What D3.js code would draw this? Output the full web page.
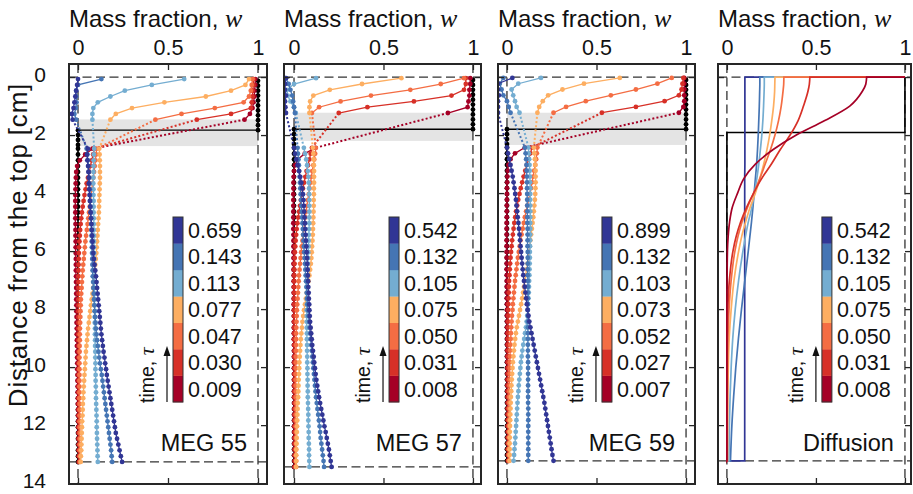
<!DOCTYPE html>
<html>
<head>
<meta charset="utf-8">
<script src="https://cdn.jsdelivr.net/npm/d3@7"></script>
<style>
  body { margin: 0; background: #fff; }
  svg text { font-family: "Liberation Sans", Arial, Helvetica, sans-serif; fill: #111; }
</style>
</head>
<body>
<svg id="chart" width="913" height="494"></svg>
<script>
// ---------- shared axis values ----------
const massTicks = [0, 0.5, 1];
const massTickLabels = ["0", "0.5", "1"];
const depthTicks = [0, 2, 4, 6, 8, 10, 12, 14];
const rampColors = ["#a50026", "#d73027", "#f46d43", "#fdae61", "#74add1", "#4575b4", "#313695"];

// ---------- MEG 55 ----------
const meg55Tau = ["0.009", "0.030", "0.047", "0.077", "0.113", "0.143", "0.659"];
const meg55Band = [1.46, 2.38];
const meg55Bottom = 13.27;
const meg55InitialAbove = [0.13, 0.3, 0.47, 0.64, 0.81, 0.98, 1.15, 1.32, 1.49, 1.66, 1.83];
const meg55InitialGap = [1.83, 2.0, 2.17, 2.34];
const meg55UpperDepth = [0.07, 0.27, 0.47, 0.67, 0.87, 1.07, 1.27, 1.47];
const meg55Upper = [
  [0.985, 0.985, 0.98, 0.98, 0.975, 0.97, 0.955, 0.925],
  [0.975, 0.975, 0.97, 0.97, 0.965, 0.96, 0.85, 0.66],
  [0.97, 0.965, 0.96, 0.95, 0.92, 0.76, 0.575, 0.43],
  [0.95, 0.93, 0.85, 0.71, 0.48, 0.3, 0.21, 0.18],
  [0.59, 0.41, 0.26, 0.18, 0.11, 0.085, 0.08, 0.08],
  [0.13, 0.0, -0.01, -0.01, -0.008, -0.012, -0.02, -0.01],
  [0.0, -0.005, -0.01, -0.015, -0.02, -0.025, -0.035, -0.03]
];
const meg55LowerDepth = [
  2.47, 2.67, 2.87, 3.07, 3.27, 3.47, 3.67, 3.87, 4.07, 4.27,
  4.47, 4.67, 4.87, 5.07, 5.27, 5.47, 5.67, 5.87, 6.07, 6.27,
  6.47, 6.67, 6.87, 7.07, 7.27, 7.47, 7.67, 7.87, 8.07, 8.27,
  8.47, 8.67, 8.87, 9.07, 9.27, 9.47, 9.67, 9.87, 10.07, 10.27,
  10.47, 10.67, 10.87, 11.07, 11.27, 11.47, 11.67, 11.87, 12.07, 12.27,
  12.47, 12.67, 12.87, 13.07, 13.27
];
const meg55Lower = [
  [0.08, 0.04, 0.01, -0.005, -0.01, -0.012, -0.013, -0.014, -0.015, -0.015,
   -0.015, -0.015, -0.015, -0.014, -0.014, -0.014, -0.013, -0.013, -0.013, -0.012,
   -0.012, -0.012, -0.011, -0.011, -0.01, -0.01, -0.01, -0.009, -0.009, -0.008,
   -0.008, -0.007, -0.007, -0.006, -0.006, -0.005, -0.005, -0.004, -0.004, -0.003,
   -0.003, -0.002, -0.002, -0.001, -0.001, 0, 0, 0.001, 0.001, 0.002,
   0.002, 0.003, 0.003, 0.004, 0.005],
  [0.092, 0.084, 0.076, 0.069, 0.062, 0.055, 0.048, 0.042, 0.036, 0.031,
   0.026, 0.022, 0.018, 0.015, 0.012, 0.01, 0.008, 0.006, 0.005, 0.004,
   0.003, 0.003, 0.002, 0.002, 0.002, 0.002, 0.002, 0.002, 0.002, 0.002,
   0.002, 0.002, 0.002, 0.002, 0.003, 0.003, 0.003, 0.003, 0.003, 0.003,
   0.003, 0.003, 0.003, 0.003, 0.004, 0.004, 0.004, 0.004, 0.004, 0.004,
   0.004, 0.005, 0.005, 0.005, 0.005],
  [0.104, 0.1, 0.097, 0.093, 0.089, 0.085, 0.081, 0.077, 0.073, 0.069,
   0.065, 0.061, 0.057, 0.053, 0.049, 0.045, 0.041, 0.038, 0.035, 0.032,
   0.029, 0.026, 0.024, 0.022, 0.02, 0.018, 0.016, 0.015, 0.014, 0.013,
   0.012, 0.011, 0.01, 0.01, 0.009, 0.009, 0.008, 0.008, 0.008, 0.008,
   0.008, 0.008, 0.008, 0.008, 0.009, 0.009, 0.009, 0.009, 0.01, 0.01,
   0.01, 0.01, 0.01, 0.011, 0.011],
  [0.118, 0.12, 0.121, 0.122, 0.122, 0.122, 0.121, 0.12, 0.119, 0.118,
   0.117, 0.116, 0.114, 0.112, 0.11, 0.108, 0.106, 0.104, 0.102, 0.099,
   0.096, 0.093, 0.09, 0.087, 0.084, 0.08, 0.076, 0.072, 0.068, 0.064,
   0.06, 0.056, 0.053, 0.05, 0.047, 0.044, 0.042, 0.04, 0.038, 0.036,
   0.034, 0.032, 0.03, 0.029, 0.027, 0.026, 0.025, 0.023, 0.022, 0.021,
   0.02, 0.019, 0.018, 0.016, 0.015],
  [0.09, 0.088, 0.087, 0.086, 0.086, 0.085, 0.085, 0.086, 0.086, 0.087,
   0.087, 0.087, 0.088, 0.088, 0.088, 0.089, 0.089, 0.089, 0.09, 0.09,
   0.09, 0.09, 0.091, 0.091, 0.091, 0.092, 0.092, 0.092, 0.093, 0.093,
   0.093, 0.094, 0.094, 0.095, 0.095, 0.096, 0.096, 0.097, 0.097, 0.098,
   0.098, 0.099, 0.1, 0.1, 0.101, 0.102, 0.103, 0.104, 0.104, 0.105,
   0.106, 0.107, 0.108, 0.109, 0.11],
  [0.048, 0.052, 0.055, 0.058, 0.06, 0.062, 0.064, 0.066, 0.067, 0.068,
   0.07, 0.071, 0.072, 0.073, 0.074, 0.075, 0.076, 0.077, 0.078, 0.079,
   0.08, 0.081, 0.082, 0.084, 0.085, 0.087, 0.089, 0.091, 0.093, 0.095,
   0.098, 0.1, 0.103, 0.106, 0.11, 0.114, 0.118, 0.122, 0.127, 0.132,
   0.136, 0.14, 0.144, 0.148, 0.152, 0.156, 0.16, 0.164, 0.168, 0.172,
   0.176, 0.18, 0.184, 0.187, 0.19],
  [0.055, 0.05, 0.052, 0.056, 0.058, 0.06, 0.06, 0.062, 0.064, 0.066,
   0.068, 0.07, 0.073, 0.075, 0.077, 0.079, 0.081, 0.083, 0.085, 0.088,
   0.092, 0.096, 0.1, 0.103, 0.106, 0.109, 0.112, 0.115, 0.118, 0.121,
   0.124, 0.127, 0.13, 0.134, 0.138, 0.142, 0.147, 0.151, 0.156, 0.16,
   0.165, 0.17, 0.175, 0.18, 0.185, 0.19, 0.195, 0.2, 0.205, 0.21,
   0.217, 0.224, 0.231, 0.238, 0.245]
];

// ---------- MEG 57 ----------
const meg57Tau = ["0.008", "0.031", "0.050", "0.075", "0.105", "0.132", "0.542"];
const meg57Band = [1.23, 2.2];
const meg57Bottom = 13.44;
const meg57InitialAbove = [0.1, 0.27, 0.44, 0.61, 0.78, 0.95, 1.12, 1.29, 1.46, 1.63, 1.8];
const meg57InitialGap = [1.8, 1.97, 2.14, 2.31];
const meg57UpperDepth = [0.04, 0.24, 0.44, 0.64, 0.84, 1.04, 1.24];
const meg57Upper = [
  [0.985, 0.985, 0.98, 0.98, 0.975, 0.97, 0.86],
  [0.96, 0.96, 0.95, 0.88, 0.67, 0.41, 0.25],
  [0.95, 0.82, 0.65, 0.43, 0.26, 0.14, 0.1],
  [0.6, 0.38, 0.2, 0.108, 0.09, 0.086, 0.086],
  [0.123, 0.0, -0.04, -0.035, -0.02, 0.0, 0.01],
  [-0.045, -0.03, -0.02, -0.01, -0.005, 0.0, 0.005],
  [-0.045, -0.05, -0.05, -0.045, -0.05, -0.048, -0.045]
];
const meg57LowerDepth = [
  2.44, 2.64, 2.84, 3.04, 3.24, 3.44, 3.64, 3.84, 4.04, 4.24,
  4.44, 4.64, 4.84, 5.04, 5.24, 5.44, 5.64, 5.84, 6.04, 6.24,
  6.44, 6.64, 6.84, 7.04, 7.24, 7.44, 7.64, 7.84, 8.04, 8.24,
  8.44, 8.64, 8.84, 9.04, 9.24, 9.44, 9.64, 9.84, 10.04, 10.24,
  10.44, 10.64, 10.84, 11.04, 11.24, 11.44, 11.64, 11.84, 12.04, 12.24,
  12.44, 12.64, 12.84, 13.04, 13.24, 13.44
];
const meg57Lower = [
  [0.12, 0.06, 0.02, 0.005, 0.0, -0.002, -0.003, -0.003, -0.004, -0.004,
   -0.004, -0.004, -0.004, -0.004, -0.004, -0.003, -0.003, -0.003, -0.003, -0.003,
   -0.003, -0.003, -0.002, -0.002, -0.002, -0.002, -0.002, -0.002, -0.001, -0.001,
   -0.001, -0.001, -0.001, -0.001, 0, 0, 0, 0, 0, 0,
   0, 0, 0, 0.001, 0.001, 0.001, 0.001, 0.001, 0.001, 0.001,
   0.001, 0.001, 0.002, 0.002, 0.002, 0.002],
  [0.1, 0.093, 0.086, 0.078, 0.07, 0.063, 0.056, 0.05, 0.044, 0.038,
   0.033, 0.028, 0.023, 0.019, 0.015, 0.012, 0.009, 0.007, 0.005, 0.004,
   0.003, 0.002, 0.002, 0.001, 0.001, 0.001, 0.001, 0.001, 0.001, 0.001,
   0.001, 0.001, 0.001, 0.001, 0.001, 0.002, 0.002, 0.002, 0.002, 0.002,
   0.002, 0.002, 0.002, 0.002, 0.003, 0.003, 0.003, 0.003, 0.003, 0.003,
   0.003, 0.003, 0.004, 0.004, 0.004, 0.004],
  [0.122, 0.118, 0.113, 0.108, 0.102, 0.097, 0.092, 0.087, 0.082, 0.077,
   0.072, 0.067, 0.063, 0.059, 0.055, 0.051, 0.047, 0.043, 0.04, 0.037,
   0.034, 0.031, 0.028, 0.026, 0.024, 0.022, 0.02, 0.018, 0.016, 0.015,
   0.014, 0.013, 0.012, 0.012, 0.011, 0.011, 0.01, 0.01, 0.01, 0.009,
   0.009, 0.009, 0.01, 0.01, 0.01, 0.01, 0.01, 0.01, 0.01, 0.011,
   0.011, 0.011, 0.011, 0.011, 0.012, 0.012],
  [0.105, 0.108, 0.11, 0.111, 0.112, 0.112, 0.112, 0.111, 0.111, 0.11,
   0.11, 0.109, 0.108, 0.107, 0.106, 0.105, 0.103, 0.101, 0.099, 0.097,
   0.094, 0.09, 0.086, 0.081, 0.076, 0.071, 0.066, 0.061, 0.056, 0.051,
   0.047, 0.044, 0.041, 0.038, 0.036, 0.034, 0.032, 0.03, 0.029, 0.028,
   0.026, 0.025, 0.024, 0.023, 0.021, 0.02, 0.019, 0.018, 0.017, 0.016,
   0.015, 0.014, 0.013, 0.012, 0.012, 0.011],
  [0.055, 0.062, 0.068, 0.073, 0.077, 0.08, 0.082, 0.084, 0.085, 0.086,
   0.086, 0.086, 0.085, 0.085, 0.084, 0.083, 0.082, 0.081, 0.08, 0.079,
   0.078, 0.077, 0.076, 0.075, 0.074, 0.073, 0.072, 0.072, 0.071, 0.071,
   0.071, 0.071, 0.072, 0.072, 0.073, 0.073, 0.074, 0.074, 0.075, 0.075,
   0.076, 0.076, 0.077, 0.077, 0.078, 0.079, 0.08, 0.08, 0.081, 0.082,
   0.082, 0.083, 0.084, 0.084, 0.085, 0.086],
  [0.02, 0.022, 0.025, 0.027, 0.029, 0.031, 0.033, 0.035, 0.037, 0.039,
   0.041, 0.043, 0.045, 0.047, 0.049, 0.051, 0.053, 0.055, 0.057, 0.059,
   0.061, 0.063, 0.065, 0.067, 0.069, 0.071, 0.073, 0.075, 0.078, 0.081,
   0.084, 0.087, 0.09, 0.093, 0.096, 0.099, 0.102, 0.105, 0.108, 0.111,
   0.114, 0.117, 0.12, 0.123, 0.127, 0.131, 0.135, 0.139, 0.143, 0.146,
   0.149, 0.153, 0.157, 0.161, 0.165, 0.168],
  [0.0, 0.005, 0.012, 0.02, 0.028, 0.035, 0.041, 0.046, 0.05, 0.053,
   0.055, 0.057, 0.059, 0.061, 0.063, 0.065, 0.067, 0.069, 0.071, 0.073,
   0.074, 0.076, 0.077, 0.079, 0.08, 0.082, 0.083, 0.085, 0.086, 0.088,
   0.09, 0.093, 0.096, 0.099, 0.102, 0.106, 0.11, 0.113, 0.117, 0.121,
   0.125, 0.13, 0.135, 0.14, 0.146, 0.152, 0.158, 0.164, 0.17, 0.177,
   0.183, 0.189, 0.195, 0.2, 0.205, 0.21]
];

// ---------- MEG 59 ----------
const meg59Tau = ["0.007", "0.027", "0.052", "0.073", "0.103", "0.132", "0.899"];
const meg59Band = [1.23, 2.34];
const meg59Bottom = 13.23;
const meg59InitialAbove = [0.1, 0.27, 0.44, 0.61, 0.78, 0.95, 1.12, 1.29, 1.46, 1.63, 1.8];
const meg59InitialGap = [1.8, 1.97, 2.14, 2.31];
const meg59UpperDepth = [0.03, 0.23, 0.43, 0.63, 0.83, 1.03, 1.23];
const meg59Upper = [
  [0.99, 0.99, 0.99, 0.99, 0.99, 0.985, 0.96],
  [0.985, 0.98, 0.975, 0.96, 0.88, 0.72, 0.53],
  [0.92, 0.84, 0.72, 0.58, 0.44, 0.33, 0.26],
  [0.63, 0.43, 0.31, 0.23, 0.2, 0.18, 0.17],
  [0.19, 0.063, 0.026, 0.035, 0.045, 0.054, 0.07],
  [-0.02, -0.04, -0.03, -0.02, 0.0, 0.01, 0.02],
  [0.03, -0.05, -0.05, -0.045, -0.05, -0.05, -0.05]
];
const meg59LowerDepth = [
  2.43, 2.63, 2.83, 3.03, 3.23, 3.43, 3.63, 3.83, 4.03, 4.23,
  4.43, 4.63, 4.83, 5.03, 5.23, 5.43, 5.63, 5.83, 6.03, 6.23,
  6.43, 6.63, 6.83, 7.03, 7.23, 7.43, 7.63, 7.83, 8.03, 8.23,
  8.43, 8.63, 8.83, 9.03, 9.23, 9.43, 9.63, 9.83, 10.03, 10.23,
  10.43, 10.63, 10.83, 11.03, 11.23, 11.43, 11.63, 11.83, 12.03, 12.23,
  12.43, 12.63, 12.83, 13.03, 13.23
];
const meg59Lower = [
  [0.1, 0.045, 0.02, 0.008, 0.004, 0.002, 0.001, 0, 0, 0,
   -0.001, -0.001, -0.001, -0.002, -0.002, -0.002, -0.002, -0.002, -0.002, -0.002,
   -0.002, -0.002, -0.001, -0.001, -0.001, -0.001, -0.001, 0, 0, 0,
   0, 0, 0, 0.001, 0.001, 0.001, 0.001, 0.001, 0.002, 0.002,
   0.002, 0.002, 0.002, 0.003, 0.003, 0.003, 0.003, 0.004, 0.004, 0.004,
   0.004, 0.005, 0.005, 0.005, 0.006],
  [0.14, 0.131, 0.121, 0.111, 0.102, 0.093, 0.085, 0.077, 0.07, 0.063,
   0.057, 0.051, 0.046, 0.041, 0.037, 0.033, 0.029, 0.026, 0.023, 0.02,
   0.018, 0.016, 0.014, 0.012, 0.011, 0.01, 0.009, 0.008, 0.007, 0.007,
   0.006, 0.006, 0.006, 0.005, 0.005, 0.005, 0.005, 0.005, 0.005, 0.005,
   0.005, 0.005, 0.005, 0.005, 0.005, 0.005, 0.005, 0.005, 0.005, 0.005,
   0.005, 0.005, 0.005, 0.006, 0.006],
  [0.17, 0.167, 0.163, 0.158, 0.152, 0.146, 0.14, 0.134, 0.128, 0.121,
   0.114, 0.107, 0.1, 0.094, 0.088, 0.082, 0.076, 0.071, 0.066, 0.061,
   0.057, 0.053, 0.049, 0.045, 0.042, 0.039, 0.036, 0.033, 0.031, 0.028,
   0.026, 0.024, 0.022, 0.021, 0.019, 0.018, 0.017, 0.016, 0.015, 0.015,
   0.014, 0.014, 0.013, 0.013, 0.012, 0.012, 0.012, 0.011, 0.011, 0.011,
   0.011, 0.01, 0.01, 0.01, 0.01],
  [0.15, 0.153, 0.156, 0.158, 0.16, 0.16, 0.16, 0.159, 0.158, 0.156,
   0.153, 0.15, 0.147, 0.143, 0.139, 0.135, 0.131, 0.127, 0.123, 0.119,
   0.115, 0.11, 0.105, 0.1, 0.095, 0.09, 0.085, 0.079, 0.073, 0.067,
   0.061, 0.055, 0.05, 0.046, 0.042, 0.039, 0.036, 0.033, 0.031, 0.029,
   0.027, 0.025, 0.024, 0.022, 0.021, 0.02, 0.019, 0.018, 0.017, 0.016,
   0.016, 0.015, 0.015, 0.015, 0.015],
  [0.12, 0.122, 0.124, 0.126, 0.127, 0.128, 0.129, 0.13, 0.13, 0.13,
   0.13, 0.13, 0.13, 0.13, 0.13, 0.13, 0.129, 0.129, 0.128, 0.128,
   0.127, 0.126, 0.125, 0.124, 0.123, 0.122, 0.12, 0.118, 0.116, 0.113,
   0.11, 0.106, 0.101, 0.096, 0.091, 0.086, 0.082, 0.078, 0.075, 0.072,
   0.069, 0.066, 0.064, 0.061, 0.059, 0.057, 0.055, 0.053, 0.051, 0.049,
   0.047, 0.045, 0.042, 0.04, 0.037],
  [0.1, 0.104, 0.107, 0.109, 0.11, 0.111, 0.112, 0.112, 0.113, 0.113,
   0.113, 0.114, 0.114, 0.114, 0.115, 0.115, 0.115, 0.115, 0.116, 0.116,
   0.116, 0.116, 0.116, 0.117, 0.117, 0.117, 0.117, 0.117, 0.117, 0.117,
   0.117, 0.117, 0.117, 0.117, 0.117, 0.117, 0.117, 0.118, 0.118, 0.118,
   0.118, 0.118, 0.118, 0.118, 0.118, 0.119, 0.119, 0.119, 0.119, 0.119,
   0.119, 0.119, 0.119, 0.119, 0.119],
  [0.0, 0.006, 0.013, 0.02, 0.026, 0.032, 0.037, 0.042, 0.046, 0.05,
   0.053, 0.057, 0.06, 0.064, 0.067, 0.07, 0.073, 0.076, 0.079, 0.082,
   0.085, 0.088, 0.091, 0.095, 0.099, 0.103, 0.107, 0.111, 0.115, 0.12,
   0.125, 0.131, 0.137, 0.143, 0.149, 0.155, 0.161, 0.167, 0.173, 0.179,
   0.185, 0.191, 0.197, 0.203, 0.209, 0.214, 0.219, 0.224, 0.229, 0.234,
   0.239, 0.244, 0.249, 0.254, 0.26]
];

// ---------- Diffusion model ----------
const diffusionTau = ["0.008", "0.031", "0.050", "0.075", "0.105", "0.132", "0.542"];
const diffusionBottom = 13.23;
const diffusionInitialW = [1, 1, 0, 0];
const diffusionInitialDepth = [0, 1.91, 1.91, 13.23];
const diffusionDepth = [0, 0.25, 0.5, 1, 1.5, 2, 2.5, 3, 3.5, 4, 4.5, 5, 5.5, 6, 7, 8, 9, 10, 11, 12, 13.23];
const diffusionProfiles = [
  [0.785, 0.78, 0.76, 0.69, 0.55, 0.39, 0.26, 0.16, 0.095, 0.06, 0.03, 0.015, 0.007, 0.003, 0.001, 0, 0, 0, 0, 0, 0],
  [0.466, 0.463, 0.455, 0.43, 0.4, 0.355, 0.3, 0.25, 0.195, 0.15, 0.11, 0.077, 0.052, 0.034, 0.014, 0.005, 0.002, 0.001, 0.001, 0.001, 0.001],
  [0.32, 0.319, 0.315, 0.305, 0.29, 0.27, 0.245, 0.215, 0.185, 0.15, 0.115, 0.085, 0.062, 0.045, 0.024, 0.012, 0.006, 0.004, 0.003, 0.002, 0.002],
  [0.27, 0.269, 0.268, 0.262, 0.252, 0.24, 0.225, 0.207, 0.185, 0.16, 0.13, 0.105, 0.083, 0.066, 0.04, 0.024, 0.013, 0.008, 0.005, 0.004, 0.003],
  [0.21, 0.21, 0.209, 0.206, 0.202, 0.196, 0.188, 0.179, 0.168, 0.155, 0.14, 0.12, 0.104, 0.09, 0.066, 0.047, 0.033, 0.024, 0.018, 0.014, 0.012],
  [0.185, 0.185, 0.184, 0.182, 0.179, 0.176, 0.172, 0.167, 0.16, 0.153, 0.146, 0.138, 0.129, 0.12, 0.101, 0.082, 0.065, 0.05, 0.038, 0.028, 0.02],
  [0.101, 0.101, 0.101, 0.101, 0.101, 0.101, 0.101, 0.101, 0.1, 0.1, 0.1, 0.1, 0.1, 0.1, 0.1, 0.1, 0.1, 0.1, 0.1, 0.1, 0.1]
];

// ---------- layout ----------
const frameTop = 64, frameBottom = 484;
const panelFrames = [[69, 267], [284, 481], [498, 695], [718, 911]];
const panelDomains = [[-0.05, 1.05], [-0.056, 1.045], [-0.05, 1.05], [-0.05, 1.034]];

const measured = [
  { label: "MEG 55", tau: meg55Tau, band: meg55Band, bottom: meg55Bottom, above: meg55InitialAbove, gap: meg55InitialGap,
    upperDepth: meg55UpperDepth, upper: meg55Upper, lowerDepth: meg55LowerDepth, lower: meg55Lower },
  { label: "MEG 57", tau: meg57Tau, band: meg57Band, bottom: meg57Bottom, above: meg57InitialAbove, gap: meg57InitialGap,
    upperDepth: meg57UpperDepth, upper: meg57Upper, lowerDepth: meg57LowerDepth, lower: meg57Lower },
  { label: "MEG 59", tau: meg59Tau, band: meg59Band, bottom: meg59Bottom, above: meg59InitialAbove, gap: meg59InitialGap,
    upperDepth: meg59UpperDepth, upper: meg59Upper, lowerDepth: meg59LowerDepth, lower: meg59Lower }
];

const svg = d3.select("#chart");
const yScale = d3.scaleLinear().domain([-0.45, 14.03]).range([frameTop, frameBottom]);
const frameColor = "#262626";
const sansFont = '"Liberation Sans", Arial, sans-serif';
const serifFont = '"Liberation Serif", "DejaVu Serif", serif';

function styleAxis(sel, fontSize) {
  sel.select(".domain").remove();
  sel.selectAll(".tick line").attr("stroke", frameColor).attr("stroke-width", 1.3);
  sel.selectAll(".tick text")
    .attr("font-family", sansFont)
    .attr("font-size", fontSize).attr("fill", "#111");
}

function drawColorbar(g, x, tau) {
  const barX = x(0) + 95, barW = 10, barTop = 217, barBottom = 402;
  const seg = (barBottom - barTop) / rampColors.length;
  const cb = g.append("g");
  rampColors.forEach((c, i) => {
    cb.append("rect")
      .attr("x", barX).attr("y", barBottom - (i + 1) * seg)
      .attr("width", barW).attr("height", seg + 0.3)
      .attr("fill", c);
    cb.append("text")
      .attr("x", barX + barW + 5).attr("y", barBottom - (i + 0.5) * seg)
      .attr("dy", "0.36em").attr("font-size", 21.5)
      .text(tau[i]);
  });
  cb.append("rect").attr("x", barX).attr("y", barTop).attr("width", barW).attr("height", barBottom - barTop)
    .attr("fill", "none").attr("stroke", "#333").attr("stroke-width", 1);

  // time arrow and label
  const ax = x(0) + 89;
  cb.append("line").attr("x1", ax).attr("x2", ax).attr("y1", barBottom).attr("y2", 354)
    .attr("stroke", "#111").attr("stroke-width", 1.2);
  cb.append("path")
    .attr("d", `M${ax},346 L${ax - 3.5},356 L${ax + 3.5},356 Z`).attr("fill", "#111");
  const tl = cb.append("text")
    .attr("transform", `translate(${x(0) + 76},${barBottom + 1}) rotate(-90)`)
    .attr("font-size", 19.5);
  tl.append("tspan").text("time, ");
  tl.append("tspan").attr("font-family", serifFont)
    .attr("font-style", "italic").attr("font-size", 22).text("τ");
}

const line = (x) => d3.line().x(d => x(d[0])).y(d => yScale(d[1]));

panelFrames.forEach((frame, pi) => {
  const x = d3.scaleLinear().domain(panelDomains[pi]).range(frame);
  const g = svg.append("g");
  const clipId = "plot-clip-" + pi;
  svg.append("clipPath").attr("id", clipId).append("rect")
    .attr("x", frame[0]).attr("y", frameTop)
    .attr("width", frame[1] - frame[0]).attr("height", frameBottom - frameTop);
  const plot = g.append("g").attr("clip-path", `url(#${clipId})`);
  const isModel = pi === 3;
  const bottom = isModel ? diffusionBottom : measured[pi].bottom;

  // grey band marking the unresolved interface zone
  if (!isModel) {
    const b = measured[pi].band;
    plot.append("rect")
      .attr("x", x(0)).attr("width", x(1) - x(0))
      .attr("y", yScale(b[0])).attr("height", yScale(b[1]) - yScale(b[0]))
      .attr("fill", "#e4e4e4");
  }

  // dashed guides: column walls and liquid column limits
  const dash = { stroke: "#333", "stroke-width": 1.3, "stroke-dasharray": "9,4.5" };
  const guides = [
    [frame[0], yScale(0), frame[1], yScale(0)],
    [frame[0], yScale(bottom), frame[1], yScale(bottom)],
    [x(0), frameTop, x(0), frameBottom],
    [x(1), frameTop, x(1), frameBottom]
  ];
  guides.forEach(l => {
    const ln = plot.append("line").attr("x1", l[0]).attr("y1", l[1]).attr("x2", l[2]).attr("y2", l[3]);
    Object.entries(dash).forEach(([k, v]) => ln.attr(k, v));
  });

  if (!isModel) {
    const m = measured[pi];
    const L = line(x);
    // initial profile (black)
    const initPts = m.above.map(z => [1, z])
      .concat(m.gap.map(z => [0, z]))
      .concat(m.lowerDepth.map(z => [0, z]));
    plot.append("path").attr("d", L(initPts)).attr("fill", "none")
      .attr("stroke", "#000").attr("stroke-width", 1.4);
    plot.append("g").selectAll("circle").data(initPts).join("circle")
      .attr("cx", d => x(d[0])).attr("cy", d => yScale(d[1])).attr("r", 2.4).attr("fill", "#000");

    m.upper.forEach((up, si) => {
      const color = rampColors[si];
      const upPts = m.upperDepth.map((z, k) => [up[k], z]);
      const loPts = m.lowerDepth.map((z, k) => [m.lower[si][k], z]);
      const sg = plot.append("g");
      sg.append("path").attr("d", L(upPts)).attr("fill", "none").attr("stroke", color).attr("stroke-width", 1.3);
      sg.append("path").attr("d", L([upPts[upPts.length - 1], loPts[0]])).attr("fill", "none")
        .attr("stroke", color).attr("stroke-width", 2).attr("stroke-dasharray", "2,2.2");
      sg.append("path").attr("d", L(loPts)).attr("fill", "none").attr("stroke", color).attr("stroke-width", 1.3);
      sg.selectAll("circle").data(upPts.concat(loPts)).join("circle")
        .attr("cx", d => x(d[0])).attr("cy", d => yScale(d[1])).attr("r", 2.4).attr("fill", color);
    });
  } else {
    const L = line(x);
    const initPts = diffusionInitialW.map((w, k) => [w, diffusionInitialDepth[k]]);
    plot.append("path").attr("d", L(initPts)).attr("fill", "none").attr("stroke", "#000").attr("stroke-width", 1.6);
    const smooth = d3.line().x(d => x(d[0])).y(d => yScale(d[1])).curve(d3.curveMonotoneY);
    // latest profile first so the earliest sits on top
    for (let si = diffusionProfiles.length - 1; si >= 0; si--) {
      const prof = diffusionProfiles[si];
      const pts = diffusionDepth.map((z, k) => [prof[k], z]);
      const body = smooth(pts);
      const d = `M${x(1)},${yScale(0)}L` + body.slice(1) + `L${x(0)},${yScale(diffusionBottom)}`;
      plot.append("path").attr("d", d).attr("fill", "none")
        .attr("stroke", rampColors[si]).attr("stroke-width", 1.7);
    }
  }

  // axes with inward ticks on all four sides
  g.append("g").attr("transform", `translate(0,${frameTop})`)
    .call(d3.axisTop(x).tickValues(massTicks).tickFormat((d, i) => massTickLabels[i])
      .tickSizeInner(-6).tickSizeOuter(0).tickPadding(9))
    .call(s => styleAxis(s, 21.5));
  g.append("g").attr("transform", `translate(0,${frameBottom})`)
    .call(d3.axisBottom(x).tickValues(massTicks).tickFormat("").tickSizeInner(-6).tickSizeOuter(0))
    .call(s => styleAxis(s, 21));
  g.append("g").attr("transform", `translate(${frame[0]},0)`)
    .call(d3.axisLeft(yScale).tickValues(depthTicks).tickFormat(pi === 0 ? d3.format("d") : "")
      .tickSizeInner(-6).tickSizeOuter(0).tickPadding(23))
    .call(s => styleAxis(s, 21))
    .call(s => s.selectAll(".tick text").attr("dy", "0.2em"));
  g.append("g").attr("transform", `translate(${frame[1]},0)`)
    .call(d3.axisRight(yScale).tickValues(depthTicks).tickFormat("").tickSizeInner(-6).tickSizeOuter(0))
    .call(s => styleAxis(s, 21));

  g.append("rect").attr("x", frame[0]).attr("y", frameTop)
    .attr("width", frame[1] - frame[0]).attr("height", frameBottom - frameTop)
    .attr("fill", "none").attr("stroke", frameColor).attr("stroke-width", 2);

  // title above each column
  const t = g.append("text").attr("x", frame[0]).attr("y", 27).attr("font-size", 24);
  t.append("tspan").text("Mass fraction, ");
  t.append("tspan").attr("font-family", serifFont)
    .attr("font-style", "italic").attr("font-size", 26).text("w");

  drawColorbar(g, x, isModel ? diffusionTau : measured[pi].tau);

  g.append("text").attr("x", x(1) - 11).attr("y", 451)
    .attr("text-anchor", "end").attr("font-size", 23.5)
    .text(isModel ? "Diffusion" : measured[pi].label);
});

// shared depth axis title
svg.append("text")
  .attr("transform", "translate(27,245) rotate(-90)")
  .attr("text-anchor", "middle").attr("font-size", 26).attr("letter-spacing", 0.8)
  .text("Distance from the top [cm]");
</script>
</body>
</html>
